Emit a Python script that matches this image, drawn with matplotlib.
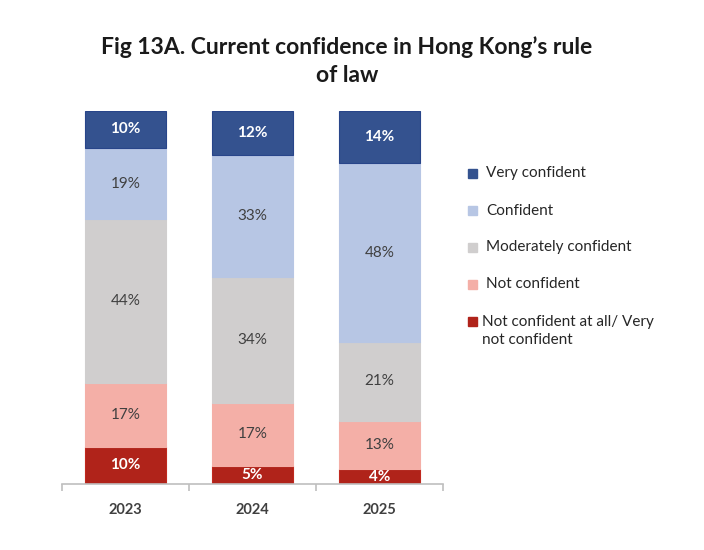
import numpy as np
import matplotlib.pyplot as plt
from matplotlib.patches import Rectangle

years = ['2023', '2024', '2025']
not_conf_all = [10, 5, 4]
not_conf = [17, 17, 13]
moderate = [44, 34, 21]
confident = [19, 33, 48]
very_conf = [10, 12, 14]

series = [not_conf_all, not_conf, moderate, confident, very_conf]
names = ['Not confident at all/ Very\nnot confident', 'Not confident',
         'Moderately confident', 'Confident', 'Very confident']
colors = ['#B0231A', '#F4AFA7', '#D0CECE', '#B7C6E4', '#34528F']
edges = ['#C0281E', '#F4AFA7', '#D0CECE', '#B7C6E4', '#28458A']
txtcol = ['white', '#404040', '#404040', '#404040', 'white']
weights = ['bold', 'normal', 'normal', 'normal', 'bold']

plt.rcParams['font.family'] = ['Lato', 'DejaVu Sans']

fig = plt.figure(figsize=(7.04, 5.5), dpi=100)
ax = fig.add_axes([0.0881, 0.12, 0.5412, 0.6787])

x = np.arange(len(years))
data = np.array(series, dtype=float)
totals = data.sum(axis=0)
shares = data / totals * 100  # 100% stacked, like the source
bottom = np.zeros(len(years))
for i in range(len(series)):
    ax.bar(x, shares[i], 0.645, bottom=bottom, color=colors[i],
           edgecolor=edges[i], linewidth=0.8)
    for j in range(len(years)):
        ax.text(x[j], bottom[j] + shares[i][j] / 2, f'{series[i][j]}%',
                ha='center', va='center', fontsize=11, color=txtcol[i],
                fontweight=weights[i])
    bottom += shares[i]

ax.set_xlim(-0.5, 2.5)
ax.set_ylim(0, 100)
ax.set_yticks([])
for s in ['top', 'right', 'left']:
    ax.spines[s].set_visible(False)
ax.spines['bottom'].set_color('#BFBFBF')
ax.spines['bottom'].set_linewidth(1.2)
ax.set_xticks(x)
ax.set_xticklabels(years, fontsize=10.5, fontweight='bold', color='#404040')
ax.set_xticks([-0.5, 0.5, 1.5, 2.5], minor=True)
ax.tick_params(axis='x', which='major', length=0, pad=14)
ax.tick_params(axis='x', which='minor', length=5, color='#BFBFBF', width=1.2)

fig.text(0.493, 0.889, 'Fig 13A. Current confidence in Hong Kong\u2019s rule\nof law',
         ha='center', va='center', fontsize=16.5, fontweight='bold',
         color='#1a1a1a', linespacing=1.4)

# legend drawn by hand to keep the wide spacing of the original
ys = [173, 211, 247, 284, 321]
for k, i in enumerate(range(len(series) - 1, -1, -1)):
    yp = 1 - ys[k] / 550
    fig.patches.append(Rectangle((468 / 704, yp - 4.5 / 550), 9 / 704, 9 / 550,
                                 transform=fig.transFigure, color=colors[i]))
    if i == 0:
        fig.text(482 / 704, 1 - 331 / 550, names[i], ha='left', va='center',
                 fontsize=11, color='#262626', linespacing=1.3)
    else:
        fig.text(486 / 704, yp, names[i], ha='left', va='center',
                 fontsize=11, color='#262626')

fig.savefig('out.png')
